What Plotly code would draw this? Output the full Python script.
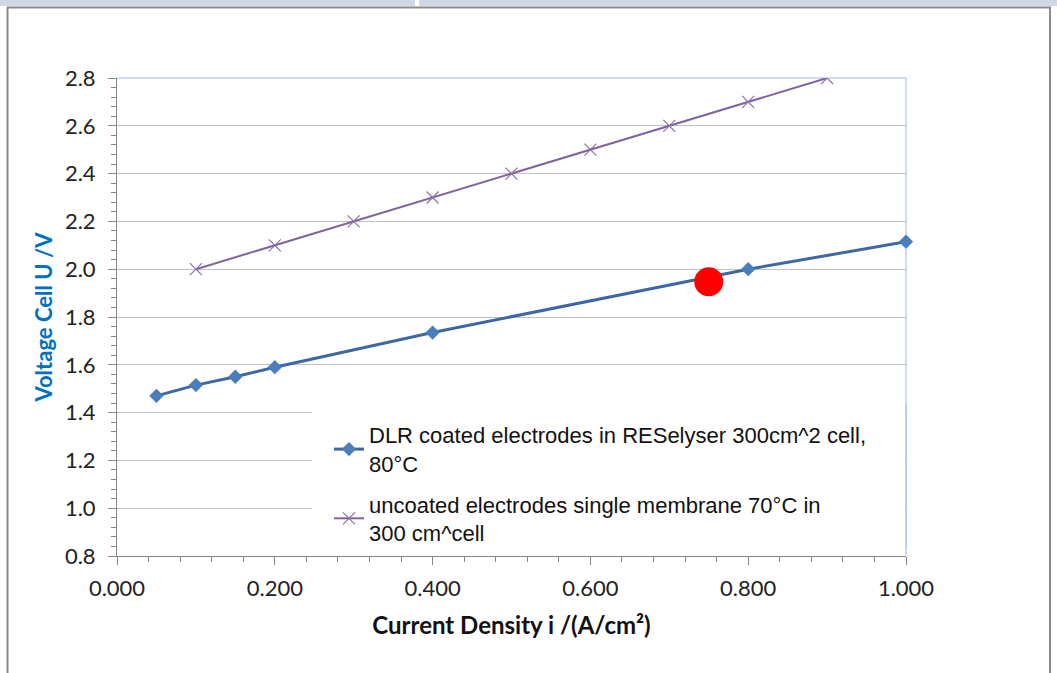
import plotly.graph_objects as go

# Data
dlr_x = [0.05, 0.1, 0.15, 0.2, 0.4, 0.8, 1.0]
dlr_y = [1.47, 1.515, 1.55, 1.59, 1.735, 2.0, 2.115]
unc_x = [0.1, 0.2, 0.3, 0.4, 0.5, 0.6, 0.7, 0.8, 0.9]
unc_y = [2.0, 2.1, 2.2, 2.3, 2.4, 2.5, 2.6, 2.7, 2.8]
dot_x = [0.75]
dot_y = [1.948]

dlr_name = "DLR coated electrodes in RESelyser 300cm^2 cell,<br>80°C"
unc_name = "uncoated electrodes single membrane 70°C in<br>300 cm^cell"

W, H = 1057, 673
L, R, T, B = 117, 906, 78, 556

def px(x):
    return (x - L) / (R - L)

def py(y):
    return (B - y) / (B - T)

fig = go.Figure()
fig.add_trace(go.Scatter(
    x=dlr_x, y=dlr_y, name=dlr_name, mode="lines+markers", legendgroup="dlr",
    line=dict(color="#3d68a3", width=3),
    marker=dict(symbol="diamond", size=11, color="#4a7ebb"),
    cliponaxis=False,
))
fig.add_trace(go.Scatter(
    x=unc_x, y=unc_y, name=unc_name, mode="lines+markers", legendgroup="unc",
    line=dict(color="#8064a2", width=2),
    marker=dict(symbol="x-thin-open", size=12, color="#8c72ad",
                line=dict(color="#8c72ad", width=1.2)),
    cliponaxis=True,
))
fig.add_trace(go.Scatter(
    x=dot_x, y=dot_y, mode="markers", showlegend=False,
    marker=dict(size=29, color="#ff0000", line=dict(width=0)),
    cliponaxis=False,
))

tickfont = dict(family="Lato, Open Sans, sans-serif", size=22, color="#222222")

fig.update_xaxes(
    range=[0, 1], dtick=0.2, tick0=0, tickformat=".3f",
    showgrid=False, zeroline=False,
    showline=True, linecolor="#868686", linewidth=1,
    ticks="outside", ticklen=8, tickcolor="#868686",
    minor=dict(dtick=0.04, ticks="outside", ticklen=5, tickcolor="#868686"),
    tickfont=tickfont, ticklabelstandoff=5,
    title=dict(text="<b>Current Density i /(A/cm²)</b>",
               font=dict(family="Lato, Open Sans, sans-serif", size=24, color="#111111"),
               standoff=16),
)
fig.update_yaxes(
    range=[0.8, 2.8], dtick=0.2, tick0=0.8, tickformat=".1f",
    showgrid=True, gridcolor="#c0c0c0", gridwidth=1, zeroline=False,
    showline=True, linecolor="#868686", linewidth=1,
    ticks="outside", ticklen=8, tickcolor="#868686",
    minor=dict(dtick=0.04, ticks="outside", ticklen=5, tickcolor="#868686", showgrid=False),
    tickfont=tickfont, ticklabelstandoff=8,
    title=dict(text="<b>Voltage Cell U /V</b>",
               font=dict(family="Lato, Open Sans, sans-serif", size=22, color="#0070c0"),
               standoff=6),
)

shapes = [
    # plot area top/right border
    dict(type="line", xref="paper", yref="paper", x0=0, x1=1, y0=1, y1=1,
         line=dict(color="#9cbbe0", width=1), layer="below"),
    dict(type="line", xref="paper", yref="paper", x0=1, x1=1, y0=0, y1=1,
         line=dict(color="#9cbbe0", width=1), layer="below"),
    # legend background (covers gridlines)
    dict(type="rect", xref="paper", yref="paper", x0=px(312), x1=px(905.5), y0=py(548), y1=py(405),
         fillcolor="#ffffff", line=dict(width=0), layer="above"),
    dict(type="line", xref="paper", yref="paper", x0=1, x1=1, y0=py(549), y1=py(404),
         line=dict(color="#9cbbe0", width=1), layer="above"),
    # top band
    dict(type="rect", xref="paper", yref="paper", x0=px(0), x1=px(W), y0=py(6), y1=py(0),
         fillcolor="#d0d8e6", line=dict(width=0), layer="above"),
    dict(type="rect", xref="paper", yref="paper", x0=px(415), x1=px(419), y0=py(6), y1=py(0),
         fillcolor="#ffffff", line=dict(width=0), layer="above"),
    # frame
    dict(type="line", xref="paper", yref="paper", x0=px(7), x1=px(1051), y0=py(7.5), y1=py(7.5),
         line=dict(color="#8a8a8a", width=2), layer="above"),
    dict(type="line", xref="paper", yref="paper", x0=px(7.5), x1=px(7.5), y0=py(7), y1=py(H + 2),
         line=dict(color="#8a8a8a", width=2), layer="above"),
    dict(type="rect", xref="paper", yref="paper", x0=px(1049), x1=px(1051), y0=py(H + 2), y1=py(7),
         fillcolor="#8a8a8a", line=dict(width=0), layer="above"),
]

fig.update_layout(
    width=W, height=H,
    margin=dict(l=L, r=W - R, t=T, b=H - B, pad=0),
    paper_bgcolor="#ffffff", plot_bgcolor="#ffffff",
    shapes=shapes,
    legend=dict(
        x=px(329), y=py(414), xanchor="left", yanchor="top",
        bgcolor="rgba(0,0,0,0)", borderwidth=0,
        font=dict(family="Liberation Sans, Arial, sans-serif", size=22, color="#111111"),
        itemwidth=30, tracegroupgap=9,
    ),
    showlegend=True,
)

fig.write_html("out.html", config={"displayModeBar": False},
               post_script="document.body.style.margin='0px';document.body.style.overflow='hidden';")
